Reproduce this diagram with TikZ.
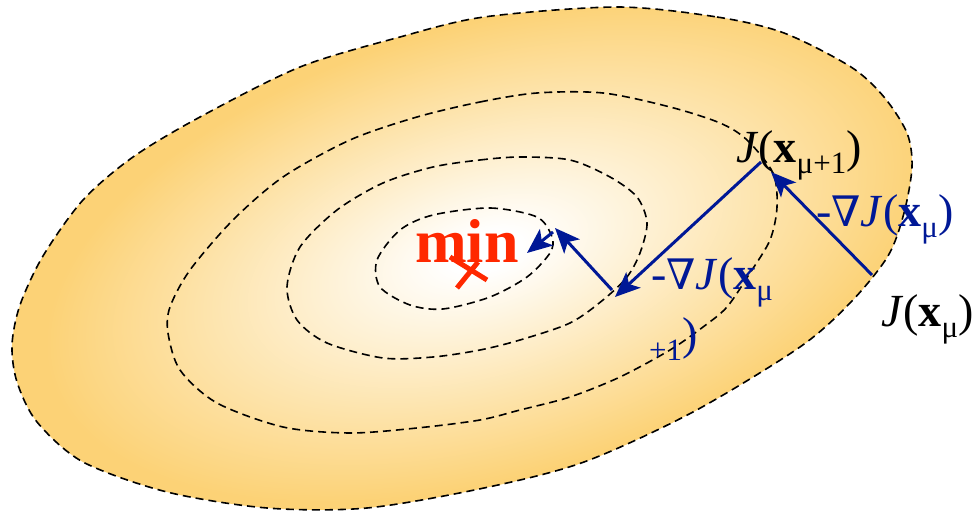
\documentclass[tikz,border=0pt]{standalone}
\usepackage{fontspec}
\setmainfont{Liberation Serif}
\newfontfamily\nablafont{DejaVu Serif}
\usetikzlibrary{arrows.meta}
\definecolor{myorange}{RGB}{252,210,118}
\definecolor{arrowblue}{RGB}{0,24,150}
\definecolor{minred}{RGB}{255,40,0}
\pgfdeclareradialshading{glow}{\pgfpointorigin}{color(0bp)=(white); color(2bp)=(white); color(24.5bp)=(myorange); color(50bp)=(myorange)}
\newcommand\lowsub[1]{\raisebox{-0.22em}{\fontsize{31}{34}\selectfont #1}}
\newcommand\nab{{\nablafont\fontsize{42}{46}\selectfont ∇}}
\begin{document}
\begin{tikzpicture}[x=1pt,y=1pt,
  contour/.style={draw=black, line width=1.6pt, dash pattern=on 8pt off 5pt},
  garrow/.style={draw=arrowblue, line width=3pt, -{Stealth[length=25pt,width=21pt,inset=6pt]}},
  lbl/.style={inner sep=0pt, anchor=base west, font=\fontsize{46}{52}\selectfont},
  crossline/.style={draw=minred, line width=5pt}]
\useasboundingbox (0,0) rectangle (974,511);
% outer region with radial glow
\begin{scope}
\path[save path=\outerp] plot[smooth cycle] coordinates {
 (617,504) (717,494) (784,478) (851,444) (884,414) (907,378) (912,344) (904,298)
 (888,255) (851,209) (800,164) (693,99) (584,49) (484,23) (367,3) (267,3)
 (167,19) (83,49) (37,89) (17,129) (12,166) (20,206) (43,255) (83,311)
 (133,354) (200,394) (300,444) (400,474) (484,494)};
\clip[use path=\outerp];
\fill[myorange] (0,0) rectangle (974,511);
\shade[shading=glow, transform canvas={shift={(485,259)},rotate=16,xscale=9.2,yscale=4.6}] (0,0) circle (50bp);
\end{scope}
\path[contour, use path=\outerp];
% contours
\draw[contour] plot[smooth cycle] coordinates {
 (417,394) (480,409) (537,418) (603,418) (670,404) (720,388) (747,371) (773,338)
 (777,304) (770,271) (750,238) (727,204) (703,184) (670,161) (620,134) (570,114)
 (520,101) (480,91) (417,83) (350,78) (283,84) (217,108) (180,141) (168,178)
 (170,204) (190,241) (233,291) (283,334) (350,371)};
\draw[contour] plot[smooth cycle] coordinates {
 (433,344) (480,351) (520,354) (570,351) (610,334) (637,314) (647,288) (640,258)
 (627,234) (603,211) (570,188) (520,171) (480,161) (433,154) (383,153) (327,168)
 (297,191) (287,224) (300,264) (337,301) (383,328)};
\draw[contour] plot[smooth cycle] coordinates {
 (433,296) (490,303) (537,294) (552,274) (550,258) (527,234) (490,214) (443,202)
 (410,206) (380,224) (377,251) (400,281)};
% min and cross
\node[inner sep=0pt, anchor=base west, text=minred, font=\fontsize{62}{64}\selectfont\bfseries] (minlbl) at (415,248) {min};
\coordinate (c1a) at (450,254); \coordinate (c1b) at (487,231);
\coordinate (c2a) at (478,249); \coordinate (c2b) at (457,223);
\draw[crossline] (c1a) -- (c1b);
\draw[crossline] (c2a) -- (c2b);
% points of the descent path
\coordinate (p0) at (872,236);
\coordinate (p1) at (771,339);
\coordinate (q0) at (761,349);
\coordinate (q1) at (615,214);
\coordinate (r0) at (612,221);
\coordinate (r1) at (555,283);
\coordinate (s0) at (553,279);
\coordinate (s1) at (527,258);
\draw[garrow] (p0) -- (p1);
\draw[garrow] (q0) -- (q1);
\draw[garrow] (r0) -- (r1);
\draw[garrow] (s0) -- (s1);
% labels
\node[lbl, text=black] (jnext) at (736,348) {\textit{J}(\textbf{x}\lowsub{μ+1})};
\node[lbl, text=black] (jcur) at (881,184) {\textit{J}(\textbf{x}\lowsub{μ})};
\node[lbl, text=arrowblue] (g1) at (816,284) {-\nab\textit{J}(\textbf{x}\lowsub{μ})};
\node[lbl, text=arrowblue] (g2) at (651,221) {-\nab\textit{J}(\textbf{x}\lowsub{μ}};
\node[lbl, text=arrowblue] (g2b) at (649,161) {\lowsub{+1})};
\end{tikzpicture}
\end{document}
